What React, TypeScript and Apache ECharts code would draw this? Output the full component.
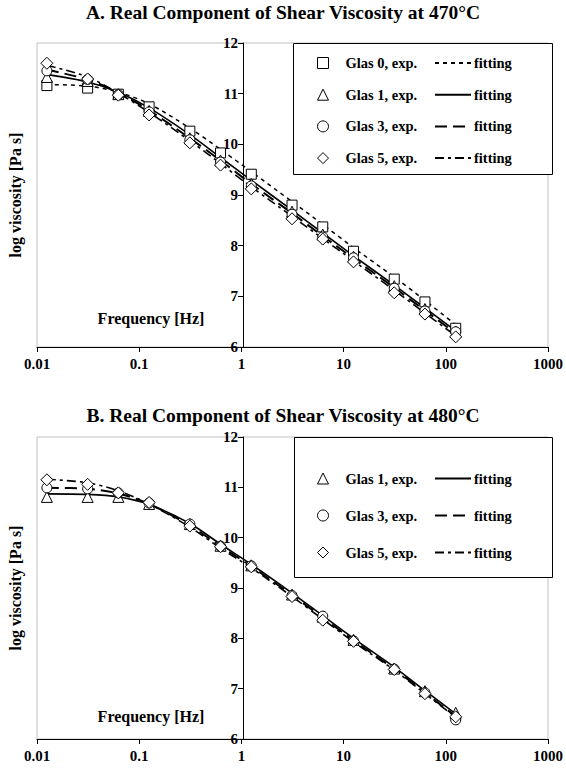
import React, { useEffect, useRef } from "react";
import * as echarts from "echarts";

const freq = [0.0125, 0.0313, 0.0625, 0.125, 0.313, 0.625, 1.25, 3.13, 6.25, 12.5, 31.3, 62.5, 125];
const xTickLabels = ["0.01", "0.1", "1", "10", "100", "1000"];

// Panel A (470°C) measured
const glas0A = [11.16, 11.11, 10.99, 10.74, 10.26, 9.83, 9.41, 8.8, 8.37, 7.89, 7.34, 6.89, 6.37];
const glas1A = [11.33, 11.25, 10.99, 10.66, 10.12, 9.68, 9.22, 8.67, 8.22, 7.78, 7.2, 6.75, 6.3];
const glas3A = [11.45, 11.28, 10.98, 10.64, 10.09, 9.65, 9.18, 8.62, 8.17, 7.76, 7.16, 6.71, 6.3];
const glas5A = [11.6, 11.29, 10.97, 10.58, 10.03, 9.59, 9.12, 8.53, 8.13, 7.68, 7.07, 6.65, 6.2];
// Panel A fittings
const fit0A = [11.18, 11.15, 11.03, 10.8, 10.32, 9.9, 9.46, 8.87, 8.42, 7.96, 7.38, 6.92, 6.44];
const fit1A = [11.38, 11.23, 11.03, 10.72, 10.19, 9.74, 9.29, 8.7, 8.25, 7.8, 7.22, 6.77, 6.32];
const fit3A = [11.47, 11.28, 11.02, 10.67, 10.12, 9.68, 9.22, 8.64, 8.19, 7.75, 7.17, 6.72, 6.27];
const fit5A = [11.56, 11.33, 11.01, 10.63, 10.07, 9.62, 9.16, 8.58, 8.14, 7.7, 7.12, 6.67, 6.22];

// Panel B (480°C) measured
const glas1B = [10.81, 10.81, 10.81, 10.67, 10.27, 9.84, 9.45, 8.87, 8.43, 7.97, 7.4, 6.95, 6.52];
const glas3B = [10.99, 10.97, 10.89, 10.69, 10.27, 9.83, 9.44, 8.85, 8.44, 7.95, 7.39, 6.92, 6.38];
const glas5B = [11.15, 11.06, 10.89, 10.7, 10.23, 9.82, 9.42, 8.83, 8.36, 7.94, 7.38, 6.9, 6.44];
// Panel B fittings
const fit1B = [10.87, 10.86, 10.81, 10.66, 10.28, 9.87, 9.47, 8.9, 8.45, 8.0, 7.43, 6.96, 6.5];
const fit3B = [10.99, 10.97, 10.88, 10.67, 10.24, 9.83, 9.43, 8.86, 8.41, 7.96, 7.39, 6.92, 6.45];
const fit5B = [11.16, 11.09, 10.93, 10.67, 10.21, 9.79, 9.4, 8.83, 8.38, 7.93, 7.37, 6.9, 6.43];

const FONT = "'Liberation Serif', 'Times New Roman', serif";

const pts = (ys: number[]) => freq.map((f, i) => [f, ys[i]]);

const symbolOf: Record<string, string> = { "0": "rect", "1": "triangle", "3": "circle", "5": "diamond" };
const dashOf: Record<string, any> = {
  "0": { type: [4, 4], width: 1.5 },
  "1": { type: "solid", width: 1.6 },
  "3": { type: [12, 6], width: 2 },
  "5": { type: [9, 4, 3, 4], width: 1.6 },
};

function expSeries(panel: string, g: string, ys: number[], idx: number) {
  return {
    type: "scatter",
    name: `${panel}:Glas ${g}, exp.`,
    xAxisIndex: idx,
    yAxisIndex: idx,
    data: pts(ys),
    symbol: symbolOf[g],
    symbolSize: g === "1" ? 11 : g === "5" ? 12 : 10,
    itemStyle: { color: "#fff", borderColor: "#000", borderWidth: 1, opacity: 1 },
    z: 3,
  };
}

function fitSeries(panel: string, g: string, ys: number[], idx: number) {
  const d = dashOf[g];
  return {
    type: "line",
    name: `${panel}:fit ${g}`,
    xAxisIndex: idx,
    yAxisIndex: idx,
    data: pts(ys),
    symbol: "none",
    showSymbol: false,
    smooth: 0.3,
    itemStyle: { color: "#000" },
    lineStyle: { color: "#000", width: d.width, type: d.type },
    z: 2,
  };
}

function xAxisFor(idx: number) {
  return {
    type: "log",
    logBase: 10,
    gridIndex: idx,
    min: 0.01,
    max: 1000,
    splitLine: { show: false },
    minorTick: { show: false },
    axisLine: { onZero: false, lineStyle: { color: "#000", width: 1 } },
    axisTick: { show: true, inside: false, length: 5, lineStyle: { color: "#000" } },
    axisLabel: {
      color: "#000",
      fontFamily: FONT,
      fontWeight: "bold",
      fontSize: 15,
      margin: 9,
      formatter: (v: number) => xTickLabels[Math.round(Math.log10(v)) + 2] ?? "",
    },
  };
}

function yAxisFor(idx: number) {
  return {
    type: "value",
    gridIndex: idx,
    min: 6,
    max: 12,
    interval: 1,
    position: "left",
    offset: -206,
    splitLine: { show: false },
    axisLine: { show: true, onZero: false, lineStyle: { color: "#000", width: 1 } },
    axisTick: { show: true, inside: false, length: 5, lineStyle: { color: "#000" } },
    axisLabel: {
      color: "#000",
      fontFamily: FONT,
      fontWeight: "bold",
      fontSize: 15,
      margin: 5,
    },
  };
}

const legendText = {
  color: "#000",
  fontFamily: FONT,
  fontWeight: "bold",
  fontSize: 14.5,
};

function expLegend(top: number, gap: number, names: string[]) {
  return {
    orient: "vertical",
    left: 317,
    top,
    padding: 0,
    itemWidth: 11,
    itemHeight: 11,
    itemGap: gap,
    selectedMode: false,
    symbolKeepAspect: true,
    itemStyle: { color: "#fff", borderColor: "#000", borderWidth: 1, opacity: 1 },
    data: names,
    formatter: (n: string) => n.replace(/^[AB]:/, ""),
    textStyle: { ...legendText, padding: [0, 0, 0, 12] },
  };
}

function fitLegend(top: number, gap: number, names: string[]) {
  return {
    orient: "vertical",
    left: 434,
    top,
    padding: 0,
    itemWidth: 36,
    itemHeight: 11,
    itemGap: gap,
    selectedMode: false,
    itemStyle: { opacity: 0 },
    data: names,
    formatter: () => "fitting",
    textStyle: { ...legendText, padding: [0, 0, 0, -2] },
  };
}

export default function App() {
  const ref = useRef<HTMLDivElement>(null);
  useEffect(() => {
    if (!ref.current) return;
    const chart = echarts.init(ref.current, null, { renderer: "svg" });
    const series: any[] = [
      fitSeries("A", "0", fit0A, 0),
      fitSeries("A", "1", fit1A, 0),
      fitSeries("A", "3", fit3A, 0),
      fitSeries("A", "5", fit5A, 0),
      expSeries("A", "0", glas0A, 0),
      expSeries("A", "1", glas1A, 0),
      expSeries("A", "3", glas3A, 0),
      expSeries("A", "5", glas5A, 0),
      fitSeries("B", "1", fit1B, 1),
      fitSeries("B", "3", fit3B, 1),
      fitSeries("B", "5", fit5B, 1),
      expSeries("B", "1", glas1B, 1),
      expSeries("B", "3", glas3B, 1),
      expSeries("B", "5", glas5B, 1),
    ];
    const titleStyle = { color: "#000", fontFamily: FONT, fontWeight: "bold", fontSize: 19.5 };
    const option: any = {
      animation: false,
      backgroundColor: "#fff",
      title: [
        { text: "A. Real Component of Shear Viscosity at 470°C", left: "center", top: 2, padding: 0, textStyle: titleStyle },
        { text: "B. Real Component of Shear Viscosity at 480°C", left: "center", top: 405, padding: 0, textStyle: titleStyle },
      ],
      grid: [
        { left: 37, top: 43, width: 515, height: 304, show: true, borderColor: "#c0c0c0", borderWidth: 1, backgroundColor: "transparent" },
        { left: 37, top: 437, width: 515, height: 302, show: true, borderColor: "#c0c0c0", borderWidth: 1, backgroundColor: "transparent" },
      ],
      xAxis: [xAxisFor(0), xAxisFor(1)],
      yAxis: [yAxisFor(0), yAxisFor(1)],
      legend: [
        expLegend(55.5, 16.7, ["A:Glas 0, exp.", "A:Glas 1, exp.", "A:Glas 3, exp.", "A:Glas 5, exp."]),
        fitLegend(55.5, 16.7, ["A:fit 0", "A:fit 1", "A:fit 3", "A:fit 5"]),
        expLegend(471, 22, ["B:Glas 1, exp.", "B:Glas 3, exp.", "B:Glas 5, exp."]),
        fitLegend(471, 22, ["B:fit 1", "B:fit 3", "B:fit 5"]),
      ],
      graphic: [
        { type: "rect", z: 3, shape: { x: 293.5, y: 43.5, width: 259, height: 131 }, style: { fill: "#fff", stroke: "#000", lineWidth: 1 } },
        { type: "rect", z: 3, shape: { x: 294.5, y: 437.5, width: 258, height: 140 }, style: { fill: "#fff", stroke: "#000", lineWidth: 1 } },
        {
          type: "text", x: 15, y: 195, rotation: Math.PI / 2,
          style: { text: "log viscosity [Pa s]", fill: "#000", font: `bold 16px ${FONT}`, textAlign: "center", verticalAlign: "middle" },
        },
        {
          type: "text", x: 15, y: 588, rotation: Math.PI / 2,
          style: { text: "log viscosity [Pa s]", fill: "#000", font: `bold 16px ${FONT}`, textAlign: "center", verticalAlign: "middle" },
        },
        {
          type: "text", x: 151, y: 318,
          style: { text: "Frequency [Hz]", fill: "#000", font: `bold 16px ${FONT}`, textAlign: "center", verticalAlign: "middle" },
        },
        {
          type: "text", x: 151, y: 716,
          style: { text: "Frequency [Hz]", fill: "#000", font: `bold 16px ${FONT}`, textAlign: "center", verticalAlign: "middle" },
        },
      ],
      series,
    };
    chart.setOption(option);
    return () => chart.dispose();
  }, []);
  return (
    <div
      ref={ref}
      style={{ position: "fixed", left: 0, top: 0, width: 566, height: 773, background: "#fff" }}
    />
  );
}
